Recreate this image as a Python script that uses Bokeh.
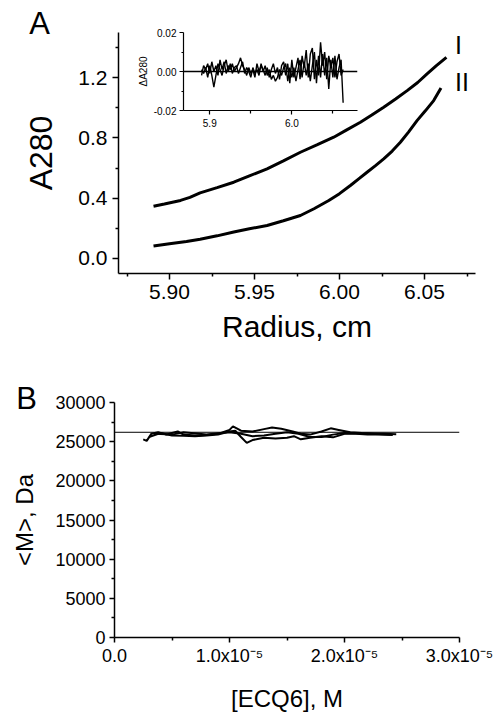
from bokeh.plotting import figure
from bokeh.models import Range1d, FixedTicker, PrintfTickFormatter, CustomJSTickFormatter, Span
from bokeh.embed import file_html
from bokeh.resources import INLINE
from bokeh.core.properties import value

FONT = "Liberation Sans"

# ---------------- Panel A data ----------------
radius_I = [5.8906, 5.897, 5.9065, 5.912, 5.918, 5.928, 5.9378, 5.947, 5.9574, 5.967,
            5.977, 5.987, 5.9966, 6.004, 6.0123, 6.019, 6.026, 6.033, 6.0398, 6.046,
            6.0515, 6.057, 6.0629]
a280_I = [0.347, 0.362, 0.385, 0.405, 0.435, 0.470, 0.506, 0.548, 0.595, 0.648,
          0.705, 0.755, 0.805, 0.852, 0.904, 0.952, 1.004, 1.058, 1.114, 1.168,
          1.225, 1.280, 1.335]
radius_II = [5.8906, 5.900, 5.910, 5.918, 5.928, 5.9378, 5.947, 5.9574, 5.967, 5.977,
             5.985, 5.9937, 6.000, 6.0064, 6.0113, 6.0162, 6.021, 6.026, 6.031, 6.0358,
             6.0407, 6.0456, 6.0505, 6.0554, 6.0597]
a280_II = [0.082, 0.098, 0.113, 0.127, 0.150, 0.176, 0.197, 0.219, 0.250, 0.285,
           0.330, 0.385, 0.430, 0.484, 0.528, 0.572, 0.615, 0.661, 0.713, 0.771,
           0.840, 0.915, 0.980, 1.048, 1.132]
curve_names = ["I", "II"]
curve_name_x = [6.068, 6.068]
curve_name_y = [1.42, 1.17]

# inset residuals
resid_r = [5.8900, 5.8925, 5.8950, 5.8975, 5.9000, 5.9025, 5.9050, 5.9075, 5.9100, 5.9125,
           5.9150, 5.9175, 5.9200, 5.9225, 5.9250, 5.9275, 5.9300, 5.9325, 5.9350, 5.9375,
           5.9400, 5.9425, 5.9450, 5.9475, 5.9500, 5.9525, 5.9550, 5.9575, 5.9600, 5.9625,
           5.9650, 5.9675, 5.9700, 5.9725, 5.9750, 5.9775, 5.9800, 5.9825, 5.9850, 5.9875,
           5.9900, 5.9925, 5.9950, 5.9975, 6.0000, 6.0025, 6.0050, 6.0075, 6.0100, 6.0125,
           6.0150, 6.0175, 6.0200, 6.0225, 6.0250, 6.0275, 6.0300, 6.0325, 6.0350, 6.0375,
           6.0400, 6.0425, 6.0450, 6.0475, 6.0500, 6.0525, 6.0550, 6.0575, 6.0600, 6.0625]
resid_1 = [-0.002, 0.003, 0.001, 0.004, -0.001, 0.005, 0.000, 0.003, -0.002, 0.006,
           0.001, 0.005, -0.001, 0.003, 0.001, 0.004, 0.000, 0.002, 0.004, 0.007,
           0.003, 0.001, -0.002, 0.002, -0.001, 0.001, -0.003, 0.004, 0.000, 0.003,
           0.001, -0.002, 0.002, -0.003, 0.001, 0.004, -0.001, 0.002, -0.004, 0.003,
           0.005, -0.002, 0.004, -0.006, 0.006, -0.003, 0.002, 0.007, -0.004, 0.008,
           0.002, 0.011, -0.003, 0.009, 0.012, -0.004, 0.006, -0.002, 0.015, 0.003,
           0.010, -0.004, 0.008, 0.002, 0.007, -0.003, 0.005, 0.009, -0.002, 0.001]
resid_2 = [0.001, -0.001, 0.002, -0.003, 0.003, -0.002, -0.008, -0.002, 0.004, 0.001,
           -0.002, 0.003, 0.006, 0.000, 0.004, -0.001, 0.002, 0.003, -0.001, 0.002,
           0.005, -0.001, 0.002, 0.000, -0.003, 0.002, -0.001, 0.001, -0.002, 0.004,
           0.000, 0.003, -0.002, 0.001, -0.004, -0.002, -0.005, -0.003, 0.001, -0.002,
           0.002, 0.004, -0.005, 0.002, -0.003, 0.002, -0.005, 0.001, 0.006, -0.003,
           0.005, -0.002, 0.004, -0.005, 0.003, 0.010, -0.006, 0.008, -0.003, 0.009,
           -0.002, 0.007, -0.009, 0.006, -0.003, 0.008, -0.004, 0.002, 0.006, -0.016]

# ---------------- Panel B data ----------------
conc_1 = [0.25, 0.28, 0.32, 0.38, 0.45, 0.50, 0.55, 0.60, 0.70, 0.80, 0.90, 1.00, 1.03,
          1.10, 1.20, 1.30, 1.37, 1.45, 1.55, 1.62, 1.70, 1.80, 1.88, 1.95, 2.05, 2.15,
          2.25, 2.35, 2.45]
mass_1 = [25300, 25100, 26000, 26200, 25900, 26100, 26300, 25900, 25800, 25850, 26000,
          26500, 26950, 26400, 26300, 26600, 26800, 26650, 26300, 26000, 25900, 26300,
          26700, 26500, 26200, 26100, 26050, 26000, 25950]
conc_2 = [0.30, 0.40, 0.50, 0.60, 0.70, 0.80, 0.90, 1.00, 1.05, 1.10, 1.15, 1.20, 1.30,
          1.40, 1.50, 1.56, 1.62, 1.70, 1.80, 1.90, 2.00, 2.10, 2.20, 2.30, 2.42]
mass_2 = [25600, 26100, 25800, 25750, 25700, 25800, 25900, 26300, 26400, 25600, 24850,
          25200, 25500, 25400, 25500, 25700, 25300, 25500, 25700, 25550, 26000, 26000,
          25900, 25900, 25850]
conc_3 = [0.35, 0.50, 0.60, 0.80, 1.00, 1.10, 1.20, 1.30, 1.40, 1.50, 1.60, 1.70, 1.80,
          1.90, 2.00, 2.20, 2.40]
mass_3 = [26000, 25900, 26200, 25900, 26200, 26000, 25700, 25800, 26000, 26200, 26000,
          25600, 25600, 25900, 26100, 26000, 25900]
ref_mass = 26200
panel_names = ["A", "B"]


def style_axis(ax, tick_px, major_out, minor_out, lw=1.5):
    ax.axis_line_width = lw
    ax.axis_line_color = "black"
    ax.major_tick_line_width = lw
    ax.minor_tick_line_width = lw
    ax.major_tick_line_color = "black"
    ax.minor_tick_line_color = "black"
    ax.major_tick_in = 0
    ax.major_tick_out = major_out
    ax.minor_tick_in = 0
    ax.minor_tick_out = minor_out
    ax.major_label_text_font = FONT
    ax.major_label_text_font_size = f"{tick_px}px"
    ax.major_label_text_color = "black"
    ax.axis_label_text_font = FONT
    ax.axis_label_text_font_style = "normal"
    ax.axis_label_text_color = "black"


W = 497
# ---------------- Panel A ----------------
hA = 346
pA = figure(width=W, height=hA, x_range=Range1d(5.87, 6.08), y_range=Range1d(-0.1, 1.5),
            output_backend="svg", toolbar_location=None,
            min_border_left=118, min_border_right=W - 475, min_border_top=32,
            min_border_bottom=hA - 273, outline_line_color=None)
pA.grid.visible = False
pA.line(radius_I, a280_I, line_width=3, line_color="black")
pA.line(radius_II, a280_II, line_width=3, line_color="black")
pA.text(x=curve_name_x, y=curve_name_y, text=curve_names, text_font=value(FONT),
        text_font_size=value("25px"), text_baseline="middle", text_align="left",
        text_color="black")
xa = pA.xaxis[0]
style_axis(xa, 21, 6, 3)
xa.ticker = FixedTicker(ticks=[5.90, 5.95, 6.00, 6.05],
                        minor_ticks=[5.875, 5.925, 5.975, 6.025, 6.075])
xa.formatter = PrintfTickFormatter(format="%.2f")
xa.axis_label = "Radius, cm"
xa.axis_label_text_font_size = "30px"
xa.axis_label_standoff = 8
xa.major_label_standoff = 5
ya = pA.yaxis[0]
style_axis(ya, 21, 6, 3)
ya.ticker = FixedTicker(ticks=[0.0, 0.4, 0.8, 1.2], minor_ticks=[0.2, 0.6, 1.0, 1.4])
ya.formatter = PrintfTickFormatter(format="%.1f")
ya.axis_label = "A280"
ya.axis_label_text_font_size = "32px"
ya.axis_label_standoff = 16
ya.major_label_standoff = 5

# ---------------- Inset ----------------
inset = figure(width=236, height=108, x_range=Range1d(5.868, 6.08), y_range=Range1d(-0.02, 0.02),
               output_backend="svg", toolbar_location=None,
               min_border_left=56, min_border_right=6, min_border_top=8, min_border_bottom=22,
               outline_line_color=None, background_fill_alpha=0, border_fill_alpha=0)
inset.styles = {"position": "absolute", "left": "127px", "top": "24px"}
inset.grid.visible = False
inset.add_layout(Span(location=0, dimension="width", line_color="black", line_width=1.5))
inset.line(resid_r, resid_1, line_width=1.4, line_color="black")
inset.line(resid_r, resid_2, line_width=1.4, line_color="black")
ix = inset.xaxis[0]
style_axis(ix, 10, 4, 3, lw=1.2)
ix.ticker = FixedTicker(ticks=[5.9, 6.0], minor_ticks=[5.95, 6.05])
ix.formatter = PrintfTickFormatter(format="%.1f")
ix.major_label_standoff = 4
iy = inset.yaxis[0]
style_axis(iy, 10, 4, 2, lw=1.2)
iy.ticker = FixedTicker(ticks=[-0.02, 0.0, 0.02], minor_ticks=[-0.01, 0.01])
iy.formatter = PrintfTickFormatter(format="%.2f")
iy.axis_label = "\u0394A280"
iy.axis_label_text_font_size = "10px"
iy.axis_label_standoff = 2
iy.major_label_standoff = 3


def panel_label(name, left, top):
    f = figure(width=60, height=60, x_range=Range1d(0, 1), y_range=Range1d(0, 1),
               x_axis_type=None, y_axis_type=None, min_border=0, toolbar_location=None,
               output_backend="svg", outline_line_color=None,
               background_fill_alpha=0, border_fill_alpha=0)
    f.grid.visible = False
    f.text(x=[0.5], y=[0.5], text=[name], text_font=value(FONT), text_font_size=value("31px"),
           text_baseline="middle", text_align="center", text_color="black")
    f.styles = {"position": "absolute", "left": f"{left}px", "top": f"{top}px"}
    return f


labA = panel_label(panel_names[0], 9, -7)
labB = panel_label(panel_names[1], -4, 368)

# ---------------- Panel B ----------------
hB = 717 - hA
pB = figure(width=W, height=hB, x_range=Range1d(0, 3e-5), y_range=Range1d(0, 30000),
            output_backend="svg", toolbar_location=None,
            min_border_left=114, min_border_right=W - 459, min_border_top=402 - hA,
            min_border_bottom=hB - (637 - hA), outline_line_color=None)
pB.grid.visible = False
pB.add_layout(Span(location=ref_mass, dimension="width", line_color="black", line_width=1))
pB.line([c * 1e-5 for c in conc_1], mass_1, line_width=2, line_color="black")
pB.line([c * 1e-5 for c in conc_2], mass_2, line_width=2, line_color="black")
pB.line([c * 1e-5 for c in conc_3], mass_3, line_width=2, line_color="black")
bx = pB.xaxis[0]
style_axis(bx, 18, 5, 3)
bx.ticker = FixedTicker(ticks=[0, 1e-5, 2e-5, 3e-5], minor_ticks=[0.5e-5, 1.5e-5, 2.5e-5])
bx.formatter = CustomJSTickFormatter(code="""
    if (tick == 0) { return "0.0"; }
    const e = Math.floor(Math.log10(Math.abs(tick)) + 1e-9);
    const m = tick / Math.pow(10, e);
    const sup = {"-":"\u207B","0":"\u2070","1":"\u00B9","2":"\u00B2","3":"\u00B3","4":"\u2074","5":"\u2075","6":"\u2076","7":"\u2077","8":"\u2078","9":"\u2079"};
    const es = String(e).split("").map(c => sup[c]).join("");
    return m.toFixed(1) + "x10" + es;
""")
bx.axis_label = "[ECQ6], M"
bx.axis_label_text_font_size = "24px"
bx.axis_label_standoff = 16
bx.major_label_standoff = 3
by = pB.yaxis[0]
style_axis(by, 18, 5, 3)
by.ticker = FixedTicker(ticks=[0, 5000, 10000, 15000, 20000, 25000, 30000],
                        minor_ticks=[2500, 7500, 12500, 17500, 22500, 27500])
by.formatter = PrintfTickFormatter(format="%d")
by.axis_label = "<M>, Da"
by.axis_label_text_font_size = "24px"
by.axis_label_standoff = 14
by.major_label_standoff = 4

open("out.html", "w").write(file_html([pA, pB, inset, labA, labB], INLINE))
